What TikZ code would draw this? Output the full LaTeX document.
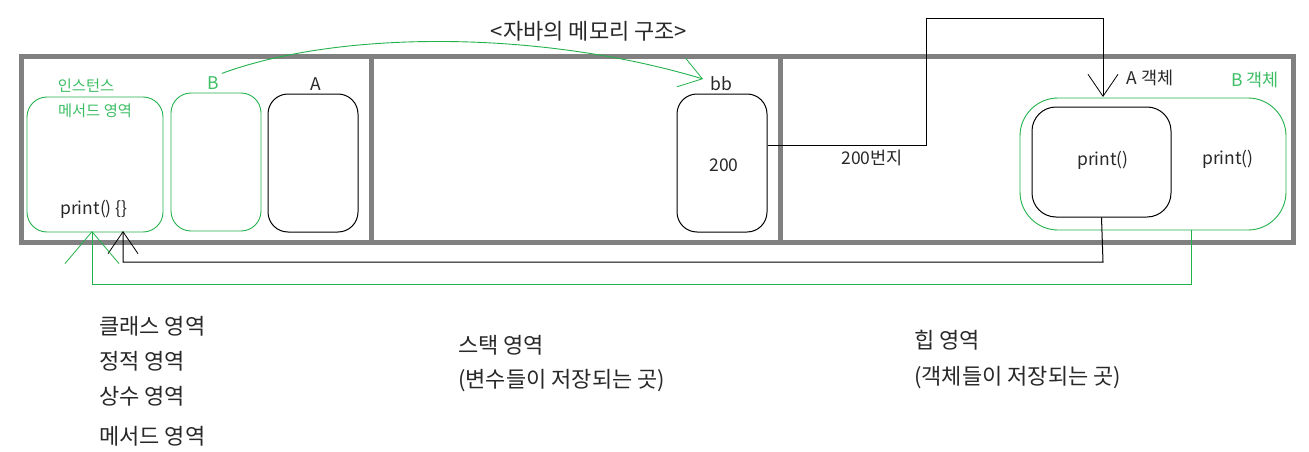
\documentclass[tikz,border=0pt]{standalone}
\usepackage{fontspec}
\setmainfont{Noto Sans CJK KR}
\usetikzlibrary{arrows.meta}
\definecolor{pgreen}{RGB}{34,177,76}
\definecolor{tgreen}{RGB}{60,190,100}
\definecolor{frame}{RGB}{128,128,128}
\definecolor{txt}{RGB}{40,40,40}
\tikzset{
  gbox/.style={draw=pgreen, line width=0.9pt, rounded corners=20pt, inner sep=0pt},
  kbox/.style={draw=black, line width=1pt, rounded corners=20pt, inner sep=0pt},
  lbl/.style={text=txt, inner sep=0pt, font=\fontsize{17.5}{20}\selectfont},
  glbl/.style={text=tgreen, inner sep=0pt, font=\fontsize{15.3}{18}\selectfont},
  big/.style={text=txt, inner sep=0pt, anchor=west, font=\fontsize{22}{25}\selectfont},
  kline/.style={draw=black, line width=1pt},
  gline/.style={draw=pgreen, line width=0.9pt},
  barb/.style={-{Straight Barb[length=22pt,width=30pt,line width=0.8pt]}},
}
\begin{document}
\begin{tikzpicture}[x=1pt,y=-1pt]
\useasboundingbox (0,0) rectangle (1309,452);
% frame
\draw[frame, line width=5pt] (21,56.5) rectangle (1293.5,242);
\draw[frame, line width=5pt] (371,56.5) -- (371,242);
\draw[frame, line width=5pt] (780,56.5) -- (780,242);
% title
\node[text=txt, inner sep=0pt, font=\fontsize{22}{25}\selectfont] (title) at (589,31) {<자바의 메모리 구조>};
% left panel
\node[gbox, minimum width=136pt, minimum height=135pt] (inst) at (95,164.5) {};
\node[glbl] (instA) at (86,86) {인스턴스};
\node[glbl] (instB) at (95,111) {메서드 영역};
\node[lbl] (pr1) at (94,209) {print() \{\}};
\node[gbox, minimum width=90pt, minimum height=138pt] (bbox) at (216,162) {};
\node[lbl, text=tgreen] (blab) at (213,83) {B};
\node[kbox, minimum width=90pt, minimum height=138pt] (abox2) at (313,163) {};
\node[lbl] (alab) at (316,84) {A};
% middle panel
\node[kbox, minimum width=90pt, minimum height=138pt] (bb) at (722,163) {};
\node[lbl] (bblab) at (721,84) {bb};
\node[lbl] (v200) at (724,165) {200};
\node[lbl] (addr) at (872,158) {200번지};
% right panel
\node[draw=pgreen, line width=0.9pt, rounded corners=38pt, minimum width=266pt, minimum height=132pt, inner sep=0pt] (bobj) at (1153,164) {};
\node[kbox, rounded corners=24pt, minimum width=139pt, minimum height=110pt] (aobj) at (1101.5,162) {};
\node[lbl] (pa) at (1103,160) {print()};
\node[lbl] (pb) at (1228,159) {print()};
\node[lbl] (aobjlab) at (1150,78) {A 객체};
\node[lbl, text=tgreen] (bobjlab) at (1255,80) {B 객체};
% connectors
\coordinate (btip) at (703,79);
\draw[gline, barb] (blab.north east) ++(3,-3) .. controls (340,30) and (540,30) .. (btip);
\coordinate (atip) at (1103,97);
\draw[kline, barb] ([yshift=18pt]bb.east) -- (926,145) -- (926,19) -- (1103,19) -- (atip);
\coordinate (itip) at (123,231);
\draw[kline, barb] (aobj.south) -- (1103,262) -- (123,262) -- (itip);
\coordinate (gtip) at (92,231);
\draw[gline, -{Straight Barb[length=32pt,width=54pt,line width=0.8pt]}] (1191,230) -- (1191,284) -- (92,284) -- (gtip);
% bottom texts
\node[big] (c1) at (99,326) {클래스 영역};
\node[big] (c2) at (99,361) {정적 영역};
\node[big] (c3) at (99,396) {상수 영역};
\node[big] (c4) at (99,436) {메서드 영역};
\node[big] (s1) at (458,345) {스택 영역};
\node[big] (s2) at (458,381) {(변수들이 저장되는 곳)};
\node[big] (h1) at (914,340) {힙 영역};
\node[big] (h2) at (914,378) {(객체들이 저장되는 곳)};
\end{tikzpicture}
\end{document}
